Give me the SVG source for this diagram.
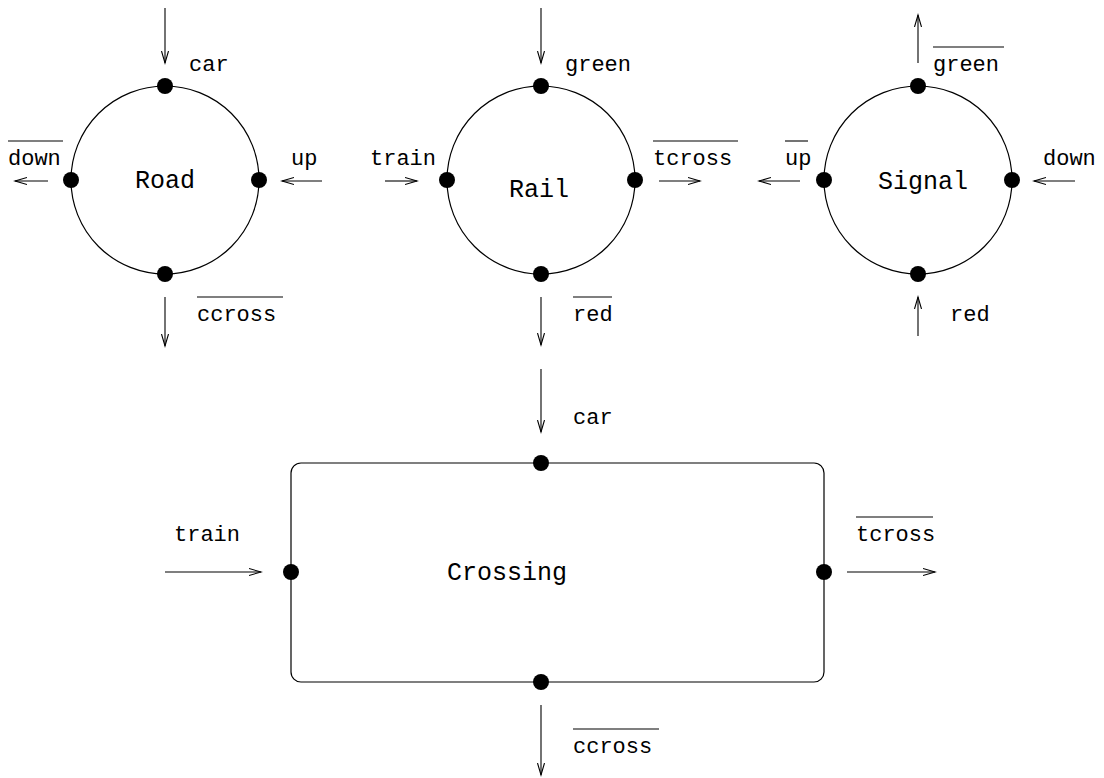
<svg xmlns="http://www.w3.org/2000/svg" width="1104" height="778" viewBox="0 0 1104 778">
<style>
.shape{fill:none;stroke:#000;stroke-width:1.2}
.dot{fill:#000}
.lbl{font-family:"Liberation Mono","Courier New",monospace;font-size:22px;fill:#000}
.ttl{font-family:"Liberation Mono","Courier New",monospace;font-size:25px;fill:#000;text-anchor:middle}
.conn line{stroke:#000;stroke-width:1.1;fill:none}
.ov{stroke:#000;stroke-width:1.1}
</style>
<defs>
<marker id="ah" markerUnits="userSpaceOnUse" markerWidth="14" markerHeight="10" refX="12" refY="4" orient="auto" viewBox="0 0 14 8">
<path d="M0,0.5 L12,4 L0,7.5" fill="none" stroke="#000" stroke-width="1.1"/>
</marker>
</defs>
<rect width="1104" height="778" fill="#fff"/>

<g id="road">
<circle class="shape" cx="165" cy="180" r="94"/>
<circle class="dot" cx="165" cy="86" r="8"/>
<circle class="dot" cx="71" cy="180" r="8"/>
<circle class="dot" cx="259" cy="180" r="8"/>
<circle class="dot" cx="165" cy="274" r="8"/>
<text class="ttl" x="165" y="188">Road</text>
<text class="lbl" x="189" y="71">car</text>
<text class="lbl" x="8" y="165">down</text>
<line class="ov" x1="8" y1="141" x2="63" y2="141"/>
<text class="lbl" x="291" y="165">up</text>
<text class="lbl" x="197" y="321">ccross</text>
<line class="ov" x1="197" y1="297" x2="283" y2="297"/>
</g>

<g id="rail">
<circle class="shape" cx="541" cy="180" r="94"/>
<circle class="dot" cx="541" cy="86" r="8"/>
<circle class="dot" cx="447" cy="180" r="8"/>
<circle class="dot" cx="635" cy="180" r="8"/>
<circle class="dot" cx="541" cy="274" r="8"/>
<text class="ttl" x="539" y="197">Rail</text>
<text class="lbl" x="565" y="71">green</text>
<text class="lbl" x="370" y="165">train</text>
<text class="lbl" x="653" y="165">tcross</text>
<line class="ov" x1="653" y1="141" x2="738" y2="141"/>
<text class="lbl" x="573" y="321">red</text>
<line class="ov" x1="573" y1="297" x2="612" y2="297"/>
</g>

<g id="signal">
<circle class="shape" cx="918" cy="180" r="94"/>
<circle class="dot" cx="918" cy="86" r="8"/>
<circle class="dot" cx="824" cy="180" r="8"/>
<circle class="dot" cx="1012" cy="180" r="8"/>
<circle class="dot" cx="918" cy="274" r="8"/>
<text class="ttl" x="923" y="189">Signal</text>
<text class="lbl" x="933" y="71">green</text>
<line class="ov" x1="933" y1="47" x2="1004" y2="47"/>
<text class="lbl" x="785" y="165">up</text>
<line class="ov" x1="785" y1="141" x2="808" y2="141"/>
<text class="lbl" x="1043" y="165">down</text>
<text class="lbl" x="950" y="321">red</text>
</g>

<g id="crossing">
<rect class="shape" x="291" y="463" width="533" height="219" rx="10" ry="10"/>
<circle class="dot" cx="541" cy="463" r="8"/>
<circle class="dot" cx="291" cy="572" r="8"/>
<circle class="dot" cx="824" cy="572" r="8"/>
<circle class="dot" cx="541" cy="682" r="8"/>
<text class="ttl" x="507" y="580">Crossing</text>
<text class="lbl" x="573" y="424">car</text>
<text class="lbl" x="174" y="541">train</text>
<text class="lbl" x="856" y="541">tcross</text>
<line class="ov" x1="856" y1="517" x2="933" y2="517"/>
<text class="lbl" x="573" y="753">ccross</text>
<line class="ov" x1="573" y1="729" x2="659" y2="729"/>
</g>

<g id="connectors" class="conn">
<line x1="165" y1="8" x2="165" y2="63" marker-end="url(#ah)"/>
<line x1="48" y1="181" x2="15" y2="181" marker-end="url(#ah)"/>
<line x1="322" y1="181" x2="282" y2="181" marker-end="url(#ah)"/>
<line x1="165" y1="297" x2="165" y2="346" marker-end="url(#ah)"/>

<line x1="541" y1="8" x2="541" y2="63" marker-end="url(#ah)"/>
<line x1="385" y1="181" x2="417" y2="181" marker-end="url(#ah)"/>
<line x1="659" y1="181" x2="700" y2="181" marker-end="url(#ah)"/>
<line x1="541" y1="297" x2="541" y2="345" marker-end="url(#ah)"/>

<line x1="918" y1="63" x2="918" y2="15" marker-end="url(#ah)"/>
<line x1="800" y1="181" x2="759" y2="181" marker-end="url(#ah)"/>
<line x1="1075" y1="181" x2="1034" y2="181" marker-end="url(#ah)"/>
<line x1="918" y1="336" x2="918" y2="297" marker-end="url(#ah)"/>

<line x1="541" y1="369" x2="541" y2="432" marker-end="url(#ah)"/>
<line x1="165" y1="572" x2="261" y2="572" marker-end="url(#ah)"/>
<line x1="847" y1="572" x2="935" y2="572" marker-end="url(#ah)"/>
<line x1="541" y1="705" x2="541" y2="775" marker-end="url(#ah)"/>
</g>
</svg>
